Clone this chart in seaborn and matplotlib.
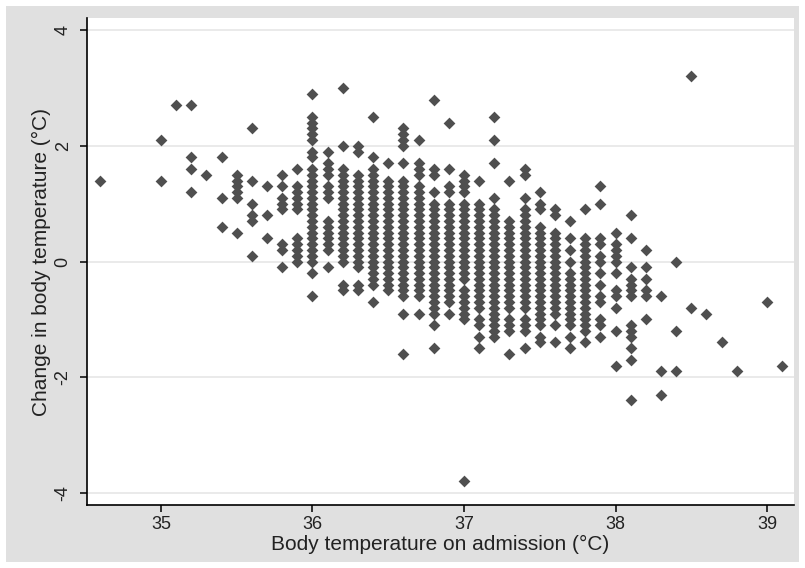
import matplotlib
matplotlib.use("Agg")
import matplotlib.pyplot as plt
from matplotlib import font_manager
from matplotlib.patches import Rectangle
import seaborn as sns
import pandas as pd

# ---- data: admission temperature (x) and observed changes (y) per x value ----
admit_temp = [34.6, 35.0, 35.1, 35.2, 35.3, 35.4, 35.5, 35.6, 35.7, 35.8, 35.9,
              36.0, 36.1, 36.2, 36.3, 36.4, 36.5, 36.6, 36.7, 36.8, 36.9,
              37.0, 37.1, 37.2, 37.3, 37.4, 37.5, 37.6, 37.7, 37.8, 37.9,
              38.0, 38.1, 38.2, 38.3, 38.4, 38.5, 38.6, 38.7, 38.8, 39.0, 39.1]

change_346 = [1.4]
change_350 = [2.1, 1.4]
change_351 = [2.7]
change_352 = [2.7, 1.8, 1.6, 1.2]
change_353 = [1.5]
change_354 = [1.8, 1.1, 0.6]
change_355 = [1.5, 1.4, 1.3, 1.2, 1.1, 0.5]
change_356 = [2.3, 1.4, 1.0, 0.8, 0.7, 0.1]
change_357 = [1.3, 0.8, 0.4]
change_358 = [1.5, 1.3, 1.1, 1.0, 0.9, 0.3, 0.2, -0.1]
change_359 = [1.6, 1.3, 1.2, 1.1, 1.0, 0.9, 0.4, 0.3, 0.2, 0.1, 0.0]
change_360 = [2.9, 2.5, 2.4, 2.3, 2.2, 2.1, 1.9, 1.8, 1.6, 1.5, 1.4, 1.3, 1.2, 1.1, 1.0,
              0.9, 0.8, 0.7, 0.6, 0.5, 0.4, 0.3, 0.2, 0.1, 0.0, -0.2, -0.6]
change_361 = [1.9, 1.7, 1.6, 1.5, 1.3, 1.2, 1.1, 0.7, 0.6, 0.5, 0.4, 0.3, 0.2, -0.1]
change_362 = [3.0, 2.0, 1.6, 1.5, 1.4, 1.3, 1.2, 1.1, 1.0, 0.9, 0.8, 0.7, 0.6, 0.5, 0.4,
              0.3, 0.2, 0.1, 0.0, -0.4, -0.5]
change_363 = [2.0, 1.9, 1.5, 1.4, 1.3, 1.2, 1.1, 1.0, 0.9, 0.8, 0.7, 0.6, 0.5, 0.4, 0.3,
              0.2, 0.1, 0.0, -0.1, -0.4, -0.5]
change_364 = [2.5, 1.8, 1.6, 1.5, 1.4, 1.3, 1.2, 1.1, 1.0, 0.9, 0.8, 0.7, 0.6, 0.5, 0.4,
              0.3, 0.2, 0.1, 0.0, -0.1, -0.2, -0.3, -0.4, -0.7]
change_365 = [1.7, 1.4, 1.3, 1.2, 1.1, 1.0, 0.9, 0.8, 0.7, 0.6, 0.5, 0.4, 0.3, 0.2, 0.1,
              0.0, -0.1, -0.2, -0.3, -0.4, -0.5]
change_366 = [2.3, 2.2, 2.1, 2.0, 1.7, 1.4, 1.3, 1.2, 1.1, 1.0, 0.9, 0.8, 0.7, 0.6, 0.5,
              0.4, 0.3, 0.2, 0.1, 0.0, -0.1, -0.2, -0.3, -0.4, -0.5, -0.6, -0.9, -1.6]
change_367 = [2.1, 1.7, 1.6, 1.5, 1.3, 1.2, 1.1, 1.0, 0.9, 0.8, 0.7, 0.6, 0.5, 0.4, 0.3,
              0.2, 0.1, 0.0, -0.1, -0.2, -0.3, -0.4, -0.5, -0.6, -0.9]
change_368 = [2.8, 1.6, 1.5, 1.2, 1.0, 0.9, 0.8, 0.7, 0.6, 0.5, 0.4, 0.3, 0.2, 0.1, 0.0,
              -0.1, -0.2, -0.3, -0.4, -0.5, -0.6, -0.7, -0.8, -0.9, -1.1, -1.5]
change_369 = [2.4, 1.6, 1.3, 1.2, 1.0, 0.9, 0.8, 0.7, 0.6, 0.5, 0.4, 0.3, 0.2, 0.1, 0.0,
              -0.1, -0.2, -0.3, -0.4, -0.5, -0.6, -0.7, -0.9]
change_370 = [1.5, 1.4, 1.3, 1.2, 1.0, 0.9, 0.8, 0.7, 0.6, 0.5, 0.4, 0.3, 0.2, 0.1, 0.0,
              -0.1, -0.2, -0.3, -0.5, -0.6, -0.7, -0.8, -0.9, -1.0, -3.8]
change_371 = [1.4, 1.0, 0.9, 0.8, 0.7, 0.6, 0.5, 0.4, 0.3, 0.2, 0.1, 0.0, -0.1, -0.2,
              -0.3, -0.4, -0.5, -0.6, -0.7, -0.8, -1.0, -1.1, -1.3, -1.5]
change_372 = [2.5, 2.1, 1.7, 1.1, 0.9, 0.8, 0.7, 0.6, 0.5, 0.4, 0.3, 0.2, 0.1, 0.0, -0.1,
              -0.2, -0.3, -0.4, -0.5, -0.6, -0.7, -0.8, -0.9, -1.0, -1.1, -1.2, -1.3]
change_373 = [1.4, 0.7, 0.6, 0.5, 0.4, 0.3, 0.2, 0.1, 0.0, -0.1, -0.2, -0.3, -0.4, -0.5,
              -0.6, -0.7, -0.8, -1.0, -1.1, -1.2, -1.6]
change_374 = [1.6, 1.5, 1.1, 0.9, 0.8, 0.7, 0.6, 0.5, 0.4, 0.3, 0.2, 0.1, 0.0, -0.1, -0.2,
              -0.3, -0.4, -0.5, -0.6, -0.7, -0.8, -1.0, -1.1, -1.2, -1.5]
change_375 = [1.2, 1.0, 0.9, 0.6, 0.5, 0.4, 0.3, 0.2, 0.1, 0.0, -0.1, -0.2, -0.3, -0.4,
              -0.5, -0.6, -0.7, -0.8, -0.9, -1.0, -1.1, -1.3, -1.4]
change_376 = [0.9, 0.8, 0.5, 0.4, 0.3, 0.2, 0.1, 0.0, -0.1, -0.2, -0.3, -0.4, -0.5, -0.6,
              -0.7, -0.8, -0.9, -1.1, -1.4]
change_377 = [0.7, 0.4, 0.2, 0.0, -0.2, -0.3, -0.4, -0.5, -0.6, -0.7, -0.8, -0.9, -1.0,
              -1.1, -1.3, -1.5]
change_378 = [0.9, 0.4, 0.3, 0.2, 0.1, 0.0, -0.1, -0.2, -0.3, -0.4, -0.5, -0.6, -0.7,
              -0.8, -0.9, -1.0, -1.1, -1.2, -1.4]
change_379 = [1.3, 1.0, 0.4, 0.3, 0.1, 0.0, -0.2, -0.4, -0.6, -0.7, -1.0, -1.1, -1.3]
change_380 = [0.5, 0.3, 0.2, 0.1, 0.0, -0.2, -0.5, -0.6, -0.8, -1.2, -1.8]
change_381 = [0.8, 0.4, -0.1, -0.3, -0.4, -0.5, -0.6, -1.1, -1.2, -1.3, -1.5, -1.7, -2.4]
change_382 = [0.2, -0.1, -0.3, -0.5, -0.6, -1.0]
change_383 = [-0.6, -1.9, -2.3]
change_384 = [0.0, -1.2, -1.9]
change_385 = [3.2, -0.8]
change_386 = [-0.9]
change_387 = [-1.4]
change_388 = [-1.9]
change_390 = [-0.7]
change_391 = [-1.8]

changes = [change_346, change_350, change_351, change_352, change_353, change_354,
           change_355, change_356, change_357, change_358, change_359,
           change_360, change_361, change_362, change_363, change_364, change_365,
           change_366, change_367, change_368, change_369,
           change_370, change_371, change_372, change_373, change_374, change_375,
           change_376, change_377, change_378, change_379,
           change_380, change_381, change_382, change_383, change_384, change_385,
           change_386, change_387, change_388, change_390, change_391]

x_ticks = [35, 36, 37, 38, 39]
y_ticks = [-4, -2, 0, 2, 4]
x_label = "Body temperature on admission (°C)"
y_label = "Change in body temperature (°C)"

rows = []
for xv, ys in zip(admit_temp, changes):
    for yv in ys:
        rows.append((xv, yv))
df = pd.DataFrame(rows, columns=["admit", "change"])

# ---- style ----
sns.set_style("white")
names = {f.name for f in font_manager.fontManager.ttflist}
if "Liberation Sans Narrow" in names:
    fam = "Liberation Sans Narrow"
    tick_fs, lab_fs = 15, 17
else:
    fam = "Liberation Sans"
    tick_fs, lab_fs = 13, 15
plt.rcParams["font.family"] = [fam, "DejaVu Sans"]

W, H = 805, 568
fig = plt.figure(figsize=(W / 100, H / 100), dpi=100)
fig.patch.set_facecolor("white")
bg = Rectangle((6 / W, 6 / H), (W - 12) / W, (H - 12) / H,
               transform=fig.transFigure, facecolor="#e0e0e0",
               edgecolor="none", zorder=-10)
fig.add_artist(bg)

ax = fig.add_axes([87 / W, 63 / H, 707 / W, 487 / H])
ax.set_zorder(5)
ax.set_facecolor("white")

sns.scatterplot(data=df, x="admit", y="change", ax=ax, marker="D", s=36,
                color="#4f4f4f", linewidth=0, zorder=3, legend=False)

ax.set_xlim(34.512, 39.178)
ax.set_ylim(-4.21, 4.21)
ax.set_xticks(x_ticks)
ax.set_yticks(y_ticks)
ax.set_xticklabels([str(v) for v in x_ticks], fontsize=tick_fs)
ax.set_yticklabels([str(v) for v in y_ticks], fontsize=tick_fs, rotation=90, va="center")
ax.grid(axis="y", color="#e6e6e6", linewidth=1.2, zorder=1)
ax.grid(axis="x", visible=False)
ax.set_axisbelow(True)

for side in ["top", "right"]:
    ax.spines[side].set_visible(False)
for side in ["left", "bottom"]:
    ax.spines[side].set_visible(True)
    ax.spines[side].set_color("black")
    ax.spines[side].set_linewidth(1.2)

ax.tick_params(axis="both", which="major", direction="out", length=5, width=1.1,
               color="black", labelcolor="#222222", left=True, bottom=True)
ax.tick_params(axis="x", pad=3)
ax.tick_params(axis="y", pad=6)

ax.set_xlabel(x_label, fontsize=lab_fs, color="#222222", labelpad=1)
ax.set_ylabel(y_label, fontsize=lab_fs, color="#222222", labelpad=3)

fig.savefig("out.png", dpi=100, facecolor=fig.get_facecolor())
